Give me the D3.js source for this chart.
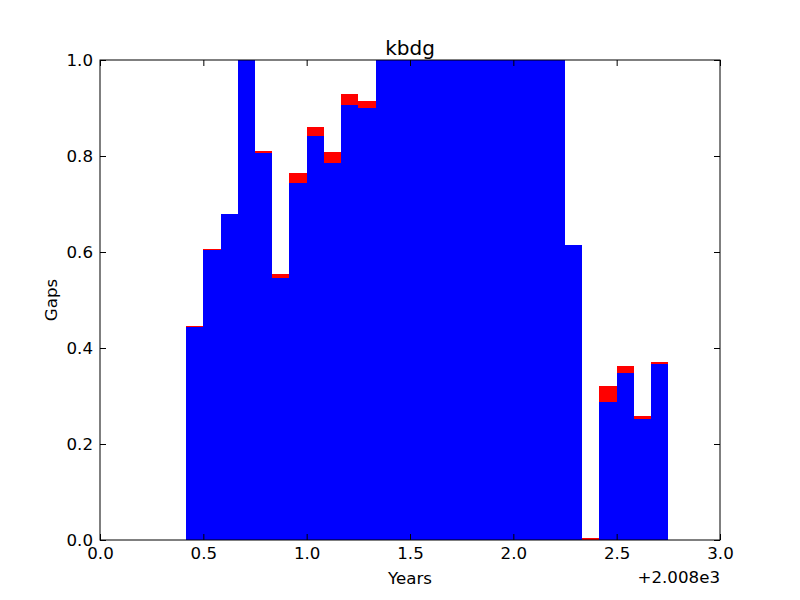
<!DOCTYPE html>
<html><head><meta charset="utf-8">
<script src="https://cdn.jsdelivr.net/npm/d3@7"></script>
<style>body{margin:0;background:#fff}svg text{font-family:"DejaVu Sans",sans-serif}</style>
</head><body><svg id="c" width="800" height="600"></svg>
<script>
// month offsets (in months after 2008.0) of each bar start
const months = [5,6,7,8,9,10,11,12,13,14,15,16,17,18,19,20,21,22,23,24,25,26,27,28,29,30,31,32];
const blueVals = [0.443,0.604,0.679,1.0,0.806,0.546,0.744,0.842,0.785,0.906,0.900,1,1,1,1,1,1,1,1,1,1,1,0.615,0.0,0.288,0.347,0.252,0.367];
const redVals  = [0.003,0.002,0.0,0.0,0.005,0.009,0.021,0.018,0.023,0.023,0.015,0,0,0,0,0,0,0,0,0,0,0,0,0.004,0.033,0.015,0.006,0.004];
const xTicks = [0.0,0.5,1.0,1.5,2.0,2.5,3.0];
const yTicks = [0.0,0.2,0.4,0.6,0.8,1.0];
const title = "kbdg", xLabel = "Years", yLabel = "Gaps", offsetText = "+2.008e3";

const svg = d3.select("#c");
const L=100,R=720,T=60,B=540;
const x = d3.scaleLinear().domain([0,3]).range([L,R]);
const y = d3.scaleLinear().domain([0,1]).range([B,T]);
const w = 1/12;
const g = svg.append("g");
months.forEach((m,i)=>{
  const x0 = m/12, x1 = x0+w;
  const b = blueVals[i], r = redVals[i];
  if (b>0) g.append("rect").attr("x",x(x0)).attr("width",x(x1)-x(x0)).attr("y",y(b)).attr("height",y(0)-y(b)).attr("fill","#0000ff").attr("shape-rendering","crispEdges");
  if (r>0) g.append("rect").attr("x",x(x0)).attr("width",x(x1)-x(x0)).attr("y",y(b+r)).attr("height",y(b)-y(b+r)).attr("fill","#ff0000").attr("shape-rendering","crispEdges");
});
const fs = 16.67, tl = 6;
// frame
svg.append("rect").attr("x",L).attr("y",T).attr("width",R-L).attr("height",B-T).attr("fill","none").attr("stroke","#000").attr("stroke-width",1);
// x ticks (inside, top & bottom)
const axB = svg.append("g").attr("transform",`translate(0,${B})`).call(d3.axisBottom(x).tickValues(xTicks).tickSizeInner(-tl).tickSizeOuter(0).tickPadding(7).tickFormat(d3.format(".1f")));
const axT = svg.append("g").attr("transform",`translate(0,${T})`).call(d3.axisTop(x).tickValues(xTicks).tickSizeInner(-tl).tickSizeOuter(0).tickFormat(""));
const axL = svg.append("g").attr("transform",`translate(${L},0)`).call(d3.axisLeft(y).tickValues(yTicks).tickSizeInner(-tl).tickSizeOuter(0).tickPadding(7).tickFormat(d3.format(".1f")));
const axR = svg.append("g").attr("transform",`translate(${R},0)`).call(d3.axisRight(y).tickValues(yTicks).tickSizeInner(-tl).tickSizeOuter(0).tickFormat(""));
[axB,axT,axL,axR].forEach(a=>{a.select(".domain").remove();a.selectAll("line").attr("stroke","#000");a.selectAll("text").attr("font-size",fs).attr("fill","#000").attr("font-family","DejaVu Sans");});
svg.append("text").attr("x",(L+R)/2).attr("y",T-5).attr("text-anchor","middle").attr("font-size",20).text(title);
svg.append("text").attr("x",(L+R)/2).attr("y",584).attr("text-anchor","middle").attr("font-size",fs).text(xLabel);
svg.append("text").attr("transform",`translate(57,${(T+B)/2}) rotate(-90)`).attr("text-anchor","middle").attr("font-size",fs).text(yLabel);
svg.append("text").attr("x",R).attr("y",583).attr("text-anchor","end").attr("font-size",fs).text(offsetText);
</script></body></html>
